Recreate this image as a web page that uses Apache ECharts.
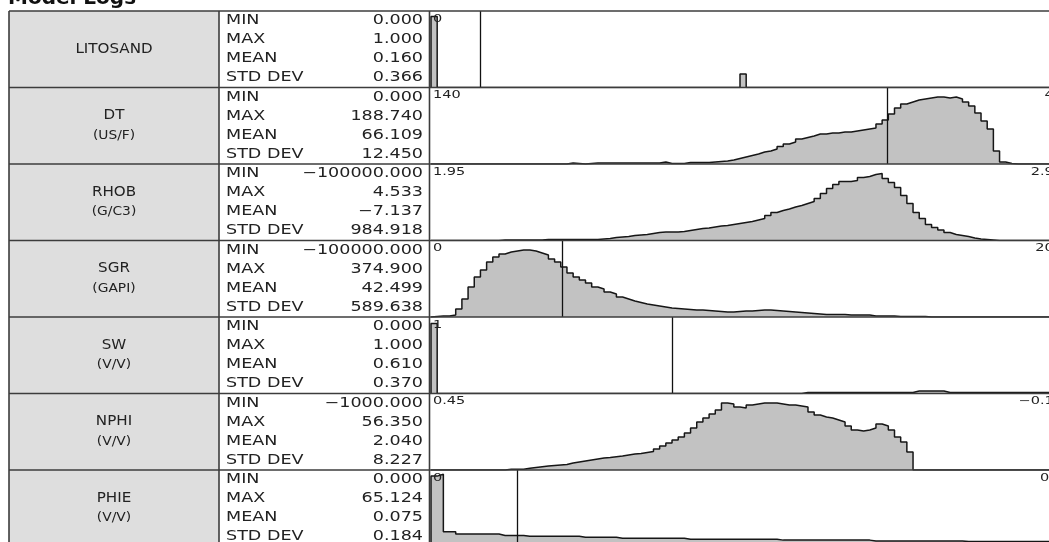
<!DOCTYPE html>
<html>
<head>
<meta charset="utf-8">
<script src="https://cdn.jsdelivr.net/npm/echarts@6/dist/echarts.min.js"></script>
<style>
  html, body { margin: 0; padding: 0; background: #ffffff; }
  #chart { width: 1049px; height: 542px; }
</style>
</head>
<body>
<div id="chart"></div>
<script>
// ---- Log statistics ----
const logNames  = ['LITOSAND', 'DT', 'RHOB', 'SGR', 'SW', 'NPHI', 'PHIE'];
const logUnits  = ['', '(US/F)', '(G/C3)', '(GAPI)', '(V/V)', '(V/V)', '(V/V)'];
const statNames = ['MIN', 'MAX', 'MEAN', 'STD DEV'];
const statMin   = [0, 0, -100000, -100000, 0, -1000, 0];
const statMax   = [1, 188.74, 4.533, 374.9, 1, 56.35, 65.124];
const statMean  = [0.16, 66.109, -7.137, 42.499, 0.61, 2.04, 0.075];
const statStd   = [0.366, 12.45, 984.918, 589.638, 0.37, 8.227, 0.184];

// ---- Histogram scales (left edge value, right edge value) ----
const scaleLeft      = [0, 140, 1.95, 0, 1, 0.45, 0];
const scaleRight     = [2, 40, 2.95, 200, 0, -0.15, 0.5];
const scaleLeftText  = ['0', '140', '1.95', '0', '1', '0.45', '0'];
const scaleRightText = ['2', '40', '2.95', '200', '0', '\u22120.15', '0.5'];

// ---- Histogram frequencies, 100 bins from left edge to right edge ----
const histLitosand = [
  71, 0, 0, 0, 0, 0, 0, 0, 0, 0,
  0, 0, 0, 0, 0, 0, 0, 0, 0, 0,
  0, 0, 0, 0, 0, 0, 0, 0, 0, 0,
  0, 0, 0, 0, 0, 0, 0, 0, 0, 0,
  0, 0, 0, 0, 0, 0, 0, 0, 0, 0,
  13.5, 0, 0, 0, 0, 0, 0, 0, 0, 0,
  0, 0, 0, 0, 0, 0, 0, 0, 0, 0,
  0, 0, 0, 0, 0, 0, 0, 0, 0, 0,
  0, 0, 0, 0, 0, 0, 0, 0, 0, 0,
  0, 0, 0, 0, 0, 0, 0, 0, 0, 0
];
const histDt = [
  0, 0, 0, 0, 0, 0, 0, 0, 0, 0,
  0, 0, 0, 0, 0, 0, 0, 0, 0, 0,
  0, 0, 1, 0.5, 0, 0.5, 1, 1, 1, 1,
  1, 1, 1, 1, 1, 1, 1, 2, 0.5, 0.5,
  0.5, 1.5, 1.5, 1.5, 1.5, 2, 2.5, 3, 4, 5.5,
  7, 8.5, 10, 12, 13, 15, 17.5, 20, 22, 25,
  26.5, 28, 30, 30, 31, 31, 32, 32, 33, 34,
  35, 36, 40, 44, 50, 56, 60, 62, 64, 65,
  66, 67, 67, 66, 67, 65, 62, 58, 51, 43,
  35, 13, 2, 0.5, 0, 0, 0, 0, 0, 0
];
const histRhob = [
  0, 0, 0, 0, 0, 0, 0, 0, 0, 0,
  0, 0.5, 0.5, 0.5, 0.5, 0.5, 0.5, 0.5, 1, 1,
  1, 1, 1, 1, 1, 1, 1, 1.5, 2, 3,
  3.5, 4, 5, 5.5, 6, 7, 8, 8.5, 8.5, 8.5,
  9, 10, 11, 12, 12.5, 13.5, 14.5, 15, 16, 17,
  18, 19, 20.5, 22, 25, 28, 30, 31.5, 33.5, 35,
  37, 39, 42, 47, 52, 56, 59, 59, 60, 63,
  64, 66, 67, 62, 58, 53, 45, 37, 28, 22,
  16, 13, 10.5, 8, 6, 5, 4, 2.5, 1.5, 1,
  0.5, 0, 0, 0, 0, 0, 0, 0, 0, 0
];
const histSgr = [
  0.5, 1, 1, 2, 8, 18, 30, 40, 47, 55,
  60, 63, 65, 66, 67, 67, 66, 64, 62, 58,
  55, 50, 44, 40, 37, 34, 30, 28, 25, 23,
  20, 18, 16, 14.5, 13, 12, 11, 10, 9, 8.5,
  8, 7.5, 7, 7, 6.5, 6, 5.5, 5, 5, 5.5,
  6, 6, 6.5, 7, 7, 6.5, 6, 5.5, 5, 4.5,
  4, 3.5, 3, 2.5, 2.5, 2.5, 2.5, 2, 2, 2,
  2, 1, 1, 1, 1, 0.5, 0.5, 0.5, 0.5, 0.5,
  0, 0, 0, 0, 0, 0, 0, 0, 0, 0,
  0, 0, 0, 0, 0, 0, 0, 0, 0, 0
];
const histSw = [
  70, 0, 0, 0, 0, 0, 0, 0, 0, 0,
  0, 0, 0, 0, 0, 0, 0, 0, 0, 0,
  0, 0, 0, 0, 0, 0, 0, 0, 0, 0,
  0, 0, 0, 0, 0, 0, 0, 0, 0, 0,
  0, 0, 0, 0, 0, 0, 0, 0, 0, 0,
  0, 0, 0, 0, 0, 0, 0, 0, 0, 0,
  1, 1, 1, 1, 1, 1, 1, 1, 1, 1,
  1, 1, 1, 1, 1, 1, 1, 1, 2.5, 2.5,
  2.5, 2.5, 2.5, 1, 1, 1, 1, 1, 1, 1,
  1, 1, 1, 1, 1, 1, 1, 1, 1, 1
];
const histNphi = [
  0, 0, 0, 0, 0, 0, 0, 0, 0, 0,
  0, 0, 0.7, 0.7, 0.7, 1.7, 2.5, 3.3, 4, 4.5,
  5, 5.5, 7, 8, 9, 10, 11, 12, 12.5, 13.3,
  14, 15, 16, 16.5, 17.5, 18.5, 21, 24, 27, 30,
  33, 37, 42, 48, 52, 56, 60, 67, 66, 63,
  62, 65, 66, 67, 67, 67, 66, 65, 65, 64,
  63, 58, 55, 53, 52, 50, 48, 44, 40, 39,
  40, 42, 46, 44, 40, 33, 28, 18, 0, 0,
  0, 0, 0, 0, 0, 0, 0, 0, 0, 0,
  0, 0, 0, 0, 0, 0, 0, 0, 0, 0
];
const histPhie = [
  70, 72, 11, 11, 8.5, 8.5, 8.5, 8.5, 8.5, 8.5,
  8.5, 7, 7, 7, 7, 6, 6, 6, 6, 6,
  6, 6, 6, 6, 5, 5, 5, 5, 5, 5,
  4, 4, 4, 4, 4, 4, 4, 4, 4, 4,
  4, 3, 3, 3, 3, 3, 3, 3, 3, 3,
  3, 3, 3, 3, 3, 3, 2, 2, 2, 2,
  2, 2, 2, 2, 2, 2, 2, 2, 2, 2,
  2, 1, 1, 1, 1, 1, 1, 1, 1, 1,
  1, 1, 1, 1, 1, 1, 0.5, 0.5, 0.5, 0.5,
  0.5, 0.5, 0.5, 0.5, 0.5, 0.5, 0.5, 0.5, 0.5, 0.5
];
const histograms = [histLitosand, histDt, histRhob, histSgr, histSw, histNphi, histPhie];

// ---- Table layout ----
const L = {
  left: 9, nameRight: 219, statRight: 429.5,
  plotLeft: 431, plotRight: 1058, pageRight: 1075,
  top: 11, rowH: 76.5, bottom: 560
};
const rowTop = i => L.top + i * L.rowH;
const FONT = '"DejaVu Sans", Verdana, sans-serif';
const INK = '#222222';
const RULE = '#3c3c3c';

function fmt(v) {
  const s = v.toFixed(3);
  return s.charAt(0) === '-' ? '\u2212' + s.slice(1) : s;
}
function label(x, y, text, size, align, vAlign, sx) {
  return {
    type: 'text', x: x, y: y, scaleX: sx, z: 30, silent: true,
    style: {
      text: text, font: 'normal ' + size + 'px ' + FONT, fill: INK,
      align: align, verticalAlign: vAlign
    }
  };
}

const graphics = [];

// title
graphics.push({
  type: 'text', x: 8, y: 9, z: 30, silent: true,
  style: { text: 'Model Logs', font: 'bold 20px ' + FONT, fill: '#111', align: 'left', verticalAlign: 'bottom' }
});

logNames.forEach((name, i) => {
  const t = rowTop(i);
  const mid = t + L.rowH / 2;
  // name cell
  graphics.push({
    type: 'rect', z: 1, silent: true,
    shape: { x: L.left, y: t, width: L.nameRight - L.left, height: L.rowH },
    style: { fill: '#dedede' }
  });
  const cx = (L.left + L.nameRight) / 2;
  if (logUnits[i]) {
    graphics.push(label(cx, mid - 10, name, 13.5, 'center', 'middle', 1.12));
    graphics.push(label(cx, mid + 10, logUnits[i], 11.5, 'center', 'middle', 1.2));
  } else {
    graphics.push(label(cx, mid, name, 13.5, 'center', 'middle', 1.12));
  }
  // statistics cell
  const vals = [statMin[i], statMax[i], statMean[i], statStd[i]];
  statNames.forEach((s, k) => {
    const y = t + 9.5 + 19 * k;
    graphics.push(label(226, y, s, 13.5, 'left', 'middle', 1.3));
    graphics.push(label(423, y, fmt(vals[k]), 13.5, 'right', 'middle', 1.3));
  });
  // histogram scale labels
  graphics.push(label(433, t + 3, scaleLeftText[i], 10, 'left', 'top', 1.45));
  graphics.push(label(1063, t + 3, scaleRightText[i], 10, 'right', 'top', 1.45));
});

// table rules
for (let k = 0; k <= logNames.length; k++) {
  const y = rowTop(k);
  graphics.push({
    type: 'line', z: 40, silent: true,
    shape: { x1: L.left, y1: y, x2: L.pageRight, y2: y },
    style: { stroke: RULE, lineWidth: 1.6 }
  });
}
[L.left, L.nameRight, L.statRight].forEach(x => {
  graphics.push({
    type: 'line', z: 40, silent: true,
    shape: { x1: x, y1: L.top, x2: x, y2: L.bottom },
    style: { stroke: RULE, lineWidth: 1.6 }
  });
});

// ---- Histogram panels ----
const grid = [], xAxis = [], yAxis = [], series = [];
histograms.forEach((h, i) => {
  const lo = scaleLeft[i], hi = scaleRight[i];
  const min = Math.min(lo, hi), max = Math.max(lo, hi);
  grid.push({ left: L.plotLeft, top: rowTop(i), width: L.plotRight - L.plotLeft, height: L.rowH });
  xAxis.push({ type: 'value', gridIndex: i, min: min, max: max, inverse: lo > hi, show: false });
  yAxis.push({ type: 'value', gridIndex: i, min: 0, max: L.rowH, show: false });

  const w = (hi - lo) / h.length;
  const pts = [[lo, 0]];
  h.forEach((c, k) => pts.push([lo + k * w, c]));
  pts.push([hi, h[h.length - 1]]);
  pts.push([hi, 0]);

  const m = statMean[i];
  const markData = (m >= min && m <= max) ? [{ xAxis: m }] : [];

  series.push({
    type: 'line', xAxisIndex: i, yAxisIndex: i, data: pts,
    step: 'end', symbol: 'none', silent: true, z: 3,
    lineStyle: { color: '#161616', width: 1.5 },
    areaStyle: { color: '#c2c2c2', opacity: 1 },
    emphasis: { disabled: true },
    markLine: {
      silent: true, symbol: ['none', 'none'], animation: false,
      label: { show: false },
      emphasis: { disabled: true },
      lineStyle: { color: '#111', width: 1.3, type: 'solid' },
      data: markData
    }
  });
});

const chart = echarts.init(document.getElementById('chart'));
chart.setOption({
  animation: false,
  backgroundColor: '#ffffff',
  grid: grid,
  xAxis: xAxis,
  yAxis: yAxis,
  series: series,
  graphic: { elements: graphics }
});
</script>
</body>
</html>
